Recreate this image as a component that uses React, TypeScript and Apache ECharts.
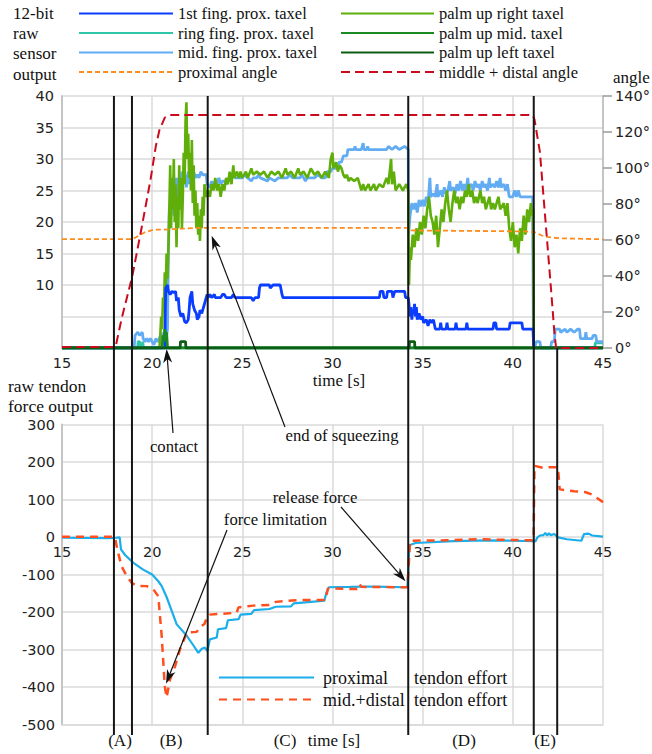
import React, { useEffect, useRef } from 'react';
import * as echarts from 'echarts';

// ---------- data (time [s], value) ----------
const firstFing: number[][] = [
  [15, 0], [20.7, 0], [20.75, 9.5], [20.85, 10], [20.9, 9], [21.0, 8.5], [21.1, 9], [21.2, 8.8], [21.3, 9], [21.35, 7.5],
  [21.45, 8], [21.5, 6], [21.6, 5], [21.7, 5.5], [21.8, 4.2], [21.9, 4], [22.0, 4.5], [22.05, 6], [22.1, 8], [22.2, 9],
  [22.25, 7], [22.35, 6], [22.45, 5.5], [22.5, 4.5], [22.6, 5], [22.65, 6], [22.75, 5.5], [22.85, 6.5], [22.95, 7.5],
  [23.05, 8.5], [23.1, 8], [23.2, 8.5], [23.3, 8], [23.45, 8.5], [23.5, 8], [23.8, 8], [23.9, 8.5], [24.0, 8.5], [24.1, 8],
  [24.4, 8], [24.5, 8.5], [24.6, 8], [25.5, 8], [25.6, 7.5], [25.7, 8], [25.9, 8], [25.95, 9.5], [26.0, 10], [26.5, 10],
  [26.55, 9.5], [26.7, 10], [27.1, 10], [27.2, 8.5], [27.25, 8], [32.6, 8], [32.65, 9], [32.8, 9], [32.85, 8], [33.0, 8],
  [33.05, 9], [33.3, 9], [33.35, 8], [33.45, 9], [34.0, 9], [34.05, 8], [34.2, 8], [34.24, 7], [34.3, 5], [34.35, 6.5],
  [34.4, 4.5], [34.45, 6], [34.5, 5.5], [34.55, 7], [34.6, 5], [34.65, 6.5], [34.7, 4.5], [34.8, 5.5], [34.9, 4.5],
  [35.0, 5], [35.05, 4], [35.2, 4.5], [35.3, 3.5], [35.4, 4.5], [35.5, 4], [35.6, 4.5], [35.7, 3], [35.95, 3], [36.0, 4],
  [36.05, 3], [36.3, 3], [36.35, 4], [36.4, 3], [36.8, 3], [36.85, 4], [36.9, 3], [37.4, 3], [37.45, 4], [37.5, 3],
  [38.9, 3], [38.95, 4], [39.05, 4], [39.1, 3], [39.8, 3], [39.85, 4], [40.5, 4], [40.55, 3], [41.12, 3], [41.16, 0], [45, 0],
];

const ringFing: number[][] = [
  [15, 0], [19.2, 0], [19.22, 1], [19.3, 1], [19.32, 0], [19.45, 0], [19.47, 1], [19.5, 1], [19.52, 0],
  [44.55, 0], [44.57, 0.8], [45, 0.8],
];

const midFing: number[][] = [
  [15, 0], [19.0, 0], [19.05, 2], [19.2, 2.5], [19.3, 2], [19.45, 2.5], [19.5, 1.5], [19.6, 1], [19.7, 1.5], [19.8, 1],
  [19.9, 1.5], [20.0, 1], [20.1, 0.5], [20.2, 1.5], [20.3, 1], [20.4, 1.5], [20.5, 2.5], [20.6, 1], [20.7, 2], [20.75, 1],
  [20.85, 3], [20.9, 15], [20.95, 22], [21.0, 20], [21.05, 26], [21.1, 22], [21.15, 27], [21.2, 21], [21.25, 25],
  [21.3, 23], [21.35, 27], [21.4, 24], [21.45, 26], [21.5, 23], [21.55, 27], [21.6, 25], [21.65, 28], [21.7, 26],
  [21.75, 28], [21.8, 26], [21.85, 27.5], [21.9, 25.5], [22.0, 28], [22.05, 26], [22.1, 27.5], [22.2, 26.5], [22.3, 28],
  [22.4, 27], [22.5, 27.5], [22.6, 27], [22.7, 28], [22.8, 27.5], [23.0, 27.5], [23.05, 26], [23.2, 25.5], [23.3, 26.5],
  [23.4, 25.5], [23.5, 26.5], [23.6, 26], [23.7, 27], [23.8, 26], [23.9, 26.5], [24.0, 26.5], [24.1, 26], [24.3, 27],
  [24.5, 27.5], [24.6, 27], [25.0, 27], [25.1, 27.5], [25.3, 27], [25.5, 26.5], [25.6, 27], [25.8, 27], [25.9, 27.5],
  [26.0, 27], [26.4, 26.5], [26.5, 27], [26.8, 26.5], [27.0, 27], [27.5, 27], [27.6, 27.5], [27.8, 27], [28.2, 27],
  [28.3, 27.5], [28.5, 26.5], [28.6, 27], [29.0, 27], [29.2, 27.5], [29.4, 27], [29.6, 27], [29.7, 28], [29.9, 28],
  [30.0, 28.5], [30.3, 28.5], [30.35, 29.5], [30.5, 29.5], [30.6, 30.5], [30.8, 30.5], [30.85, 31.5], [31.2, 31.5],
  [31.25, 32], [31.3, 31.5], [31.6, 31.5], [31.7, 32.5], [31.75, 31.5], [31.9, 31.5], [31.95, 32], [32.0, 31.5],
  [33.0, 31.5], [33.1, 32], [33.3, 31.5], [33.5, 32], [33.7, 31.5], [34.0, 32], [34.2, 31.5], [34.22, 18], [34.3, 21],
  [34.4, 23], [34.5, 22], [34.6, 23], [34.7, 21.5], [34.8, 23.5], [34.9, 22.5], [35.0, 23.5], [35.1, 22.5], [35.2, 24],
  [35.3, 23], [35.4, 27], [35.45, 24], [35.6, 24.5], [35.7, 24], [35.8, 26], [35.85, 24], [36.0, 25], [36.1, 24],
  [36.2, 25.5], [36.3, 24.5], [36.4, 25], [36.5, 26.5], [36.55, 25], [36.7, 25.5], [36.8, 24.5], [36.9, 26], [37.0, 25],
  [37.1, 26.5], [37.2, 25], [37.3, 26], [37.4, 25], [37.5, 27], [37.55, 25.5], [37.7, 26], [37.8, 25], [37.9, 26.5],
  [38.0, 25.5], [38.1, 26], [38.2, 25], [38.3, 26.5], [38.4, 25.5], [38.5, 26], [38.6, 25], [38.7, 27], [38.75, 25.5],
  [38.9, 26], [39.0, 25.5], [39.1, 26.5], [39.2, 25.5], [39.3, 27], [39.35, 25.5], [39.5, 26], [39.6, 25], [39.7, 26],
  [39.8, 24], [40.0, 24], [40.1, 25], [40.2, 24], [40.3, 25], [40.4, 24], [41.1, 24], [41.14, 1], [41.2, 0], [41.3, 1],
  [41.5, 1], [41.55, 0], [42.1, 0], [42.15, 1], [42.3, 1], [42.35, 3], [42.6, 3], [42.65, 2.5], [42.9, 3], [43.0, 2.5],
  [43.2, 3], [43.4, 2.5], [43.6, 3], [43.7, 3], [43.75, 1.5], [44.0, 1.5], [44.05, 2.5], [44.1, 1.5], [44.4, 1.5],
  [44.45, 2], [44.6, 2], [44.65, 1], [45, 1],
];

const palmRight: number[][] = [
  [15, 0], [20.4, 0], [20.45, 2], [20.5, 5], [20.55, 3], [20.6, 8], [20.65, 6], [20.7, 12], [20.75, 9], [20.8, 15],
  [20.85, 11], [20.9, 16], [20.95, 22], [21.0, 29], [21.05, 19], [21.1, 27], [21.15, 22], [21.2, 30], [21.25, 20],
  [21.3, 26], [21.35, 16], [21.4, 24], [21.45, 19], [21.5, 29], [21.55, 22], [21.6, 27], [21.65, 19], [21.7, 24],
  [21.75, 31], [21.8, 26], [21.85, 36], [21.9, 39], [21.95, 30], [22.0, 34], [22.05, 27], [22.1, 31], [22.15, 25],
  [22.2, 33], [22.25, 23], [22.3, 29], [22.35, 21], [22.4, 25], [22.45, 19], [22.5, 23], [22.55, 18], [22.6, 21],
  [22.65, 17], [22.7, 22], [22.75, 19], [22.8, 24], [22.85, 21], [22.9, 26], [23.0, 24], [23.1, 25], [23.2, 24],
  [23.3, 26], [23.4, 25], [23.5, 27], [23.6, 25], [23.7, 26], [23.8, 24], [23.9, 26], [24.0, 25], [24.1, 27], [24.2, 26],
  [24.3, 28], [24.4, 26], [24.5, 29], [24.55, 27], [24.7, 28], [24.8, 27], [24.9, 28], [25.0, 27], [25.2, 28], [25.3, 27],
  [25.5, 28.5], [25.6, 27.5], [25.8, 28], [26.0, 27.5], [26.2, 28], [26.4, 27], [26.6, 28], [26.8, 27.5], [27.0, 28],
  [27.2, 27], [27.4, 28.5], [27.5, 27.5], [27.7, 28], [27.9, 27], [28.1, 28.5], [28.2, 27.5], [28.4, 28], [28.6, 27],
  [28.8, 28.5], [29.0, 27.5], [29.2, 28], [29.4, 27], [29.6, 28], [29.8, 27], [29.9, 30], [30.0, 31], [30.05, 28.5],
  [30.2, 29.5], [30.3, 28], [30.4, 29], [30.5, 28.5], [30.6, 27.5], [30.7, 27], [30.8, 27.5], [30.9, 26.5], [31.0, 27],
  [31.2, 26.5], [31.4, 27], [31.5, 26], [31.6, 25], [31.7, 26], [31.8, 25], [32.0, 26], [32.1, 25], [32.3, 26], [32.4, 25],
  [32.6, 26], [32.8, 25.5], [33.0, 27], [33.1, 26], [33.25, 30], [33.3, 26], [33.4, 28], [33.5, 25], [33.7, 26],
  [33.9, 25], [34.1, 26], [34.2, 25], [34.24, 10], [34.3, 16], [34.35, 14], [34.45, 18], [34.55, 16], [34.65, 19],
  [34.75, 17], [34.85, 20], [34.95, 18], [35.05, 21], [35.15, 19], [35.25, 22], [35.35, 24], [35.45, 21], [35.55, 20],
  [35.65, 18], [35.75, 21], [35.85, 16], [35.95, 19], [36.05, 22], [36.15, 20], [36.25, 23], [36.35, 25], [36.45, 22],
  [36.55, 20], [36.65, 23], [36.75, 25], [36.85, 23], [36.95, 24], [37.05, 22], [37.15, 24], [37.25, 23], [37.35, 25],
  [37.45, 24], [37.55, 26], [37.65, 24], [37.75, 25], [37.85, 23], [37.95, 24], [38.05, 23], [38.2, 25], [38.3, 23],
  [38.4, 24], [38.5, 22], [38.6, 23], [38.7, 24], [38.8, 22], [38.9, 23], [39.0, 22], [39.2, 24], [39.3, 22], [39.5, 23],
  [39.6, 21], [39.7, 23], [39.8, 19], [39.9, 17], [40.0, 20], [40.1, 16], [40.2, 18], [40.3, 15], [40.4, 19], [40.5, 17],
  [40.6, 21], [40.7, 18], [40.8, 22], [40.9, 20], [41.0, 23], [41.08, 21], [41.12, 22], [41.16, 0], [45, 0],
];

const palmMid: number[][] = [
  [15, 0], [20.55, 0], [20.6, 2], [20.65, 1], [20.7, 3], [20.75, 1.5], [20.8, 2.5], [20.85, 0], [45, 0],
];

const palmLeft: number[][] = [
  [15, 0], [21.55, 0], [21.57, 1], [21.85, 1], [21.87, 0], [34.25, 0], [34.27, 1], [34.55, 1], [34.57, 0], [45, 0],
];

// angles in degrees (right axis)
const proximalAngle: number[][] = [
  [15, 60.5], [18.9, 60.5], [19.1, 61.5], [19.6, 64.3], [20.1, 65.8], [20.7, 65.8], [21.7, 66.3], [22.5, 66.7],
  [34.2, 66.7], [34.4, 65.3], [36, 65.2], [40.5, 64.8], [41.2, 64.4], [41.4, 63.5], [41.6, 62.5], [41.9, 61.7],
  [42.5, 61], [45, 60.4],
];

const midDistalAngle: number[][] = [
  [15, 0.5], [17.9, 0.5], [18.0, 2], [18.3, 16], [18.9, 40], [19.4, 66], [19.9, 93], [20.2, 112], [20.4, 121],
  [20.7, 128], [21.0, 129.5], [41.1, 129.5], [41.2, 127], [41.5, 109], [41.8, 72], [42.1, 35], [42.3, 9], [42.4, 0], [45, 0],
];

// bottom panel: raw tendon force output
const proximalEffort: number[][] = [
  [15, -2], [17.6, -3], [18.0, -2], [18.2, -1], [18.27, -33], [18.5, -48], [18.96, -69], [19.5, -87], [20.0, -100],
  [20.34, -118], [20.53, -131], [20.8, -160], [21.36, -233], [21.9, -262], [22.3, -290], [22.56, -309], [22.75, -298],
  [22.93, -295], [23.06, -304], [23.2, -273], [23.58, -268], [23.65, -246], [24.1, -243], [24.2, -222], [24.8, -219],
  [24.9, -207], [25.5, -205], [25.65, -195], [26.5, -192], [26.85, -186], [27.7, -185], [27.85, -177], [28.8, -173],
  [29.55, -170], [29.65, -150], [29.8, -134], [31, -133], [32, -132], [33, -133], [34.15, -134], [34.2, -90],
  [34.26, -22], [34.6, -16], [36.7, -11], [38.5, -9], [40, -10], [41.15, -11], [41.25, -12], [41.35, -2], [41.5, 4],
  [41.7, 5], [41.8, 11], [41.9, 4], [42.0, 10], [42.1, 5], [42.3, 8], [42.5, -1], [43.0, -6], [43.8, -10], [43.95, 8],
  [44.2, 9], [44.4, 4], [45, 1],
];

const midDistalEffort: number[][] = [
  [15, 1], [17.5, 1], [17.94, 0], [18.05, -30], [18.3, -78], [18.6, -105], [18.86, -122], [19.15, -130], [19.7, -131],
  [20.07, -140], [20.34, -158], [20.53, -265], [20.7, -398], [20.8, -428], [20.99, -380], [21.27, -345], [21.54, -300],
  [21.92, -255], [22.47, -253], [22.65, -240], [22.9, -232], [23.06, -211], [23.2, -207], [24.69, -202], [24.78, -188],
  [25.6, -183], [26.5, -181], [26.85, -173], [28.1, -168], [29.6, -168], [29.75, -137], [31.4, -139], [31.5, -126],
  [31.6, -133], [34.15, -134], [34.2, -100], [34.3, -10], [36, -9], [38, -6], [40, -8], [41.15, -9], [41.2, 190],
  [41.7, 184], [42.0, 186], [42.5, 186], [42.6, 127], [43.4, 122], [44.0, 120], [44.4, 113], [45, 93],
];

// axis ticks
const timeTicks = [15, 20, 25, 30, 35, 40, 45];

// event markers (s)
const eventTimes = [17.88, 18.88, 23.08, 34.2, 41.16];
const lateEventTimes = [42.46];
const phaseLabels = ['(A)', '(B)', '(C)', '(D)', '(E)'];

const SERIF = '"Liberation Serif", "Times New Roman", serif';
const SANS = '"DejaVu Sans", sans-serif';

export default function App() {
  const ref = useRef<HTMLDivElement>(null);
  useEffect(() => {
    if (!ref.current) return;
    const chart = echarts.init(ref.current, null, { renderer: 'svg' });
    const gridColor = '#dadada';
    const axisColor = '#c4c4c4';
    const TICK_FS = 14.5;
    const labelStyle = { fontFamily: SANS, fontSize: TICK_FS, color: '#222' };
    const line = (name: string, data: number[][], color: string, width: number, xi: number, yi: number, dash?: number[], z = 2) => ({
      name, type: 'line', data, xAxisIndex: xi, yAxisIndex: yi, symbol: 'none', showSymbol: false, z,
      lineStyle: { color, width, type: dash ? dash : 'solid' }, itemStyle: { color },
      emphasis: { disabled: true },
    });
    const LEG_FS = 16.5;
    const legendText = { fontFamily: SERIF, fontSize: LEG_FS, color: '#111' };
    const legendCommon = {
      orient: 'vertical', itemHeight: 17, itemGap: 2.5, padding: 0, selectedMode: false,
      itemStyle: { opacity: 0 }, textStyle: legendText,
    };
    const option: any = {
      animation: false,
      grid: [
        { left: 62, right: 49, top: 96, height: 252, outerBoundsMode: 'none', containLabel: false },
        { left: 62, right: 49, top: 424.5, height: 300, outerBoundsMode: 'none', containLabel: false },
      ],
      legend: [
        {
          ...legendCommon, left: 78, top: 5, itemWidth: 94,
          data: ['1st fing. prox. taxel', 'ring fing. prox. taxel', 'mid. fing. prox. taxel', 'proximal angle'],
        },
        {
          ...legendCommon, left: 340, top: 5, itemWidth: 93,
          data: ['palm up right taxel', 'palm up mid. taxel', 'palm up left taxel', 'middle + distal angle'],
        },
        {
          ...legendCommon, left: 218, top: 668.5, itemWidth: 95, itemHeight: 19, itemGap: 4,
          data: ['proximal tendon effort', 'mid.+distal tendon effort'],
          formatter: (n: string) => {
            const first = n.replace(' tendon effort', '');
            return `{a|${first}}{b|tendon effort}`;
          },
          textStyle: {
            ...legendText,
            rich: {
              a: { fontFamily: SERIF, fontSize: 18, color: '#111', width: 91, padding: [0, 0, 0, 4] },
              b: { fontFamily: SERIF, fontSize: 18, color: '#111' },
            },
          },
        },
      ],
      xAxis: [
        {
          gridIndex: 0, type: 'value', min: 15, max: 45, interval: 5,
          axisLine: { lineStyle: { color: axisColor, width: 2 } }, axisTick: { show: false },
          axisLabel: { ...labelStyle, margin: 7 },
          splitLine: { lineStyle: { color: gridColor, width: 1.5 } },
        },
        {
          gridIndex: 1, type: 'value', min: 15, max: 45, interval: 5,
          axisLine: { onZero: false, lineStyle: { color: gridColor, width: 1.5 } }, axisTick: { show: false },
          axisLabel: { show: false },
          splitLine: { lineStyle: { color: gridColor, width: 1.5 } },
        },
      ],
      yAxis: [
        {
          gridIndex: 0, type: 'value', min: 0, max: 40, interval: 5, position: 'left',
          axisLine: { show: true, lineStyle: { color: axisColor, width: 2 } }, axisTick: { show: false },
          axisLabel: { ...labelStyle, margin: 8, formatter: (v: number) => (v < 10 ? '' : String(v)) },
          splitLine: { lineStyle: { color: gridColor, width: 1.5 } },
        },
        {
          gridIndex: 0, type: 'value', min: 0, max: 140, interval: 20, position: 'right',
          axisLine: { show: true, lineStyle: { color: axisColor, width: 2 } },
          axisTick: { show: true, length: 9, lineStyle: { color: '#9a9a9a', width: 1.5 } },
          axisLabel: { ...labelStyle, margin: 12, formatter: '{value}°' },
          splitLine: { show: false },
        },
        {
          gridIndex: 1, type: 'value', min: -500, max: 300, interval: 100, position: 'left',
          axisLine: { show: true, lineStyle: { color: axisColor, width: 2 } }, axisTick: { show: false },
          axisLabel: { ...labelStyle, margin: 7 },
          splitLine: { lineStyle: { color: gridColor, width: 1.5 } },
        },
      ],
      series: [
        line('ring fing. prox. taxel', ringFing, '#2fc6aa', 2.8, 0, 0),
        line('mid. fing. prox. taxel', midFing, '#62acf4', 2.8, 0, 0),
        line('palm up right taxel', palmRight, '#5fae0a', 2.6, 0, 0),
        line('1st fing. prox. taxel', firstFing, '#0a3dff', 2.8, 0, 0),
        line('palm up mid. taxel', palmMid, '#1b8a22', 2.8, 0, 0),
        line('palm up left taxel', palmLeft, '#0d5e12', 2.8, 0, 0),
        line('proximal angle', proximalAngle, '#ff8c1a', 1.8, 0, 1, [5, 3], 3),
        line('middle + distal angle', midDistalAngle, '#cc0a1e', 2, 0, 1, [9, 5], 3),
        line('proximal tendon effort', proximalEffort, '#1aaeea', 2.2, 1, 2),
        line('mid.+distal tendon effort', midDistalEffort, '#ff4f1f', 2.5, 1, 2, [8, 6]),
      ],
    };
    chart.setOption(option);

    const px = (t: number) => chart.convertToPixel({ xAxisIndex: 0 }, t) as number;
    const pyTop = (v: number) => chart.convertToPixel({ yAxisIndex: 0 }, v) as number;
    const pyBot = (v: number) => chart.convertToPixel({ yAxisIndex: 2 }, v) as number;
    const topY = pyTop(40);
    const topBottom = pyTop(0);
    const lineBottom = 735;

    const arrow = (x1: number, y1: number, x2: number, y2: number) => {
      const dx = x2 - x1, dy = y2 - y1;
      const len = Math.hypot(dx, dy);
      const ux = dx / len, uy = dy / len;
      const L = 14, W = 4.5, inner = 10;
      const bx = x2 - ux * L, by = y2 - uy * L;
      const nx = -uy, ny = ux;
      const ix = x2 - ux * inner, iy = y2 - uy * inner;
      return [
        { type: 'line', z: 100, shape: { x1, y1, x2: ix, y2: iy }, style: { stroke: '#111', lineWidth: 1.2 } },
        {
          type: 'polygon', z: 100,
          shape: { points: [[x2, y2], [bx + nx * W, by + ny * W], [ix, iy], [bx - nx * W, by - ny * W]] },
          style: { fill: '#111' },
        },
      ];
    };
    const text = (s: string, x: number, y: number, align = 'center', size = 16.7, font = SERIF, fill = '#111') => ({
      type: 'text', z: 100, x, y,
      style: { text: s, font: `${size}px ${font}`, fill, textAlign: align, textVerticalAlign: 'middle' },
    });

    const graphics: any[] = [];
    // bottom time-axis tick labels, placed on the zero line of the force axis
    timeTicks.forEach((t) => graphics.push({ ...text(String(t), px(t), pyBot(0) + 15, 'center', TICK_FS, SANS, '#222'), z: 50 }));

    eventTimes.forEach((t) => {
      const x = px(t);
      graphics.push({ type: 'line', z: 90, shape: { x1: x, y1: topY, x2: x, y2: lineBottom }, style: { stroke: '#161616', lineWidth: 2 } });
    });
    lateEventTimes.forEach((t) => {
      const x = px(t);
      graphics.push({ type: 'line', z: 90, shape: { x1: x, y1: topBottom, x2: x, y2: lineBottom }, style: { stroke: '#161616', lineWidth: 2 } });
    });

    // side labels
    ['12-bit', 'raw', 'sensor', 'output'].forEach((s, i) => graphics.push(text(s, 13, [13.3, 33, 53, 74][i], 'left', 17)));
    graphics.push(text('angle', 613, 77, 'left', 17));
    graphics.push(text('raw tendon', 8, 386, 'left', 17.5));
    graphics.push(text('force output', 8, 406, 'left', 17.5));
    graphics.push(text('time [s]', 339, 380, 'center', 17));
    graphics.push(text('time [s]', 334, 740, 'center', 17));
    const phaseX = [120, 171, 285, 464, 545];
    phaseLabels.forEach((s, i) => graphics.push(text(s, phaseX[i], 740, 'center', 17)));

    // annotations
    graphics.push(text('contact', 174, 446));
    graphics.push(...arrow(173, 433, px(20.8), pyTop(0) + 1));
    graphics.push(text('end of squeezing', 342, 435));
    graphics.push(...arrow(285, 427, px(23.3), pyTop(17.8)));
    graphics.push(text('release force', 315, 497));
    graphics.push(...arrow(341, 507, px(34.05), pyBot(-118)));
    graphics.push(text('force limitation', 275.5, 519));
    graphics.push(...arrow(227, 530, px(20.77), pyBot(-391)));

    chart.setOption({ graphic: graphics });
    return () => chart.dispose();
  }, []);
  return <div ref={ref} style={{ position: 'fixed', left: 0, top: 0, width: 652, height: 754, background: '#fff' }} />;
}
